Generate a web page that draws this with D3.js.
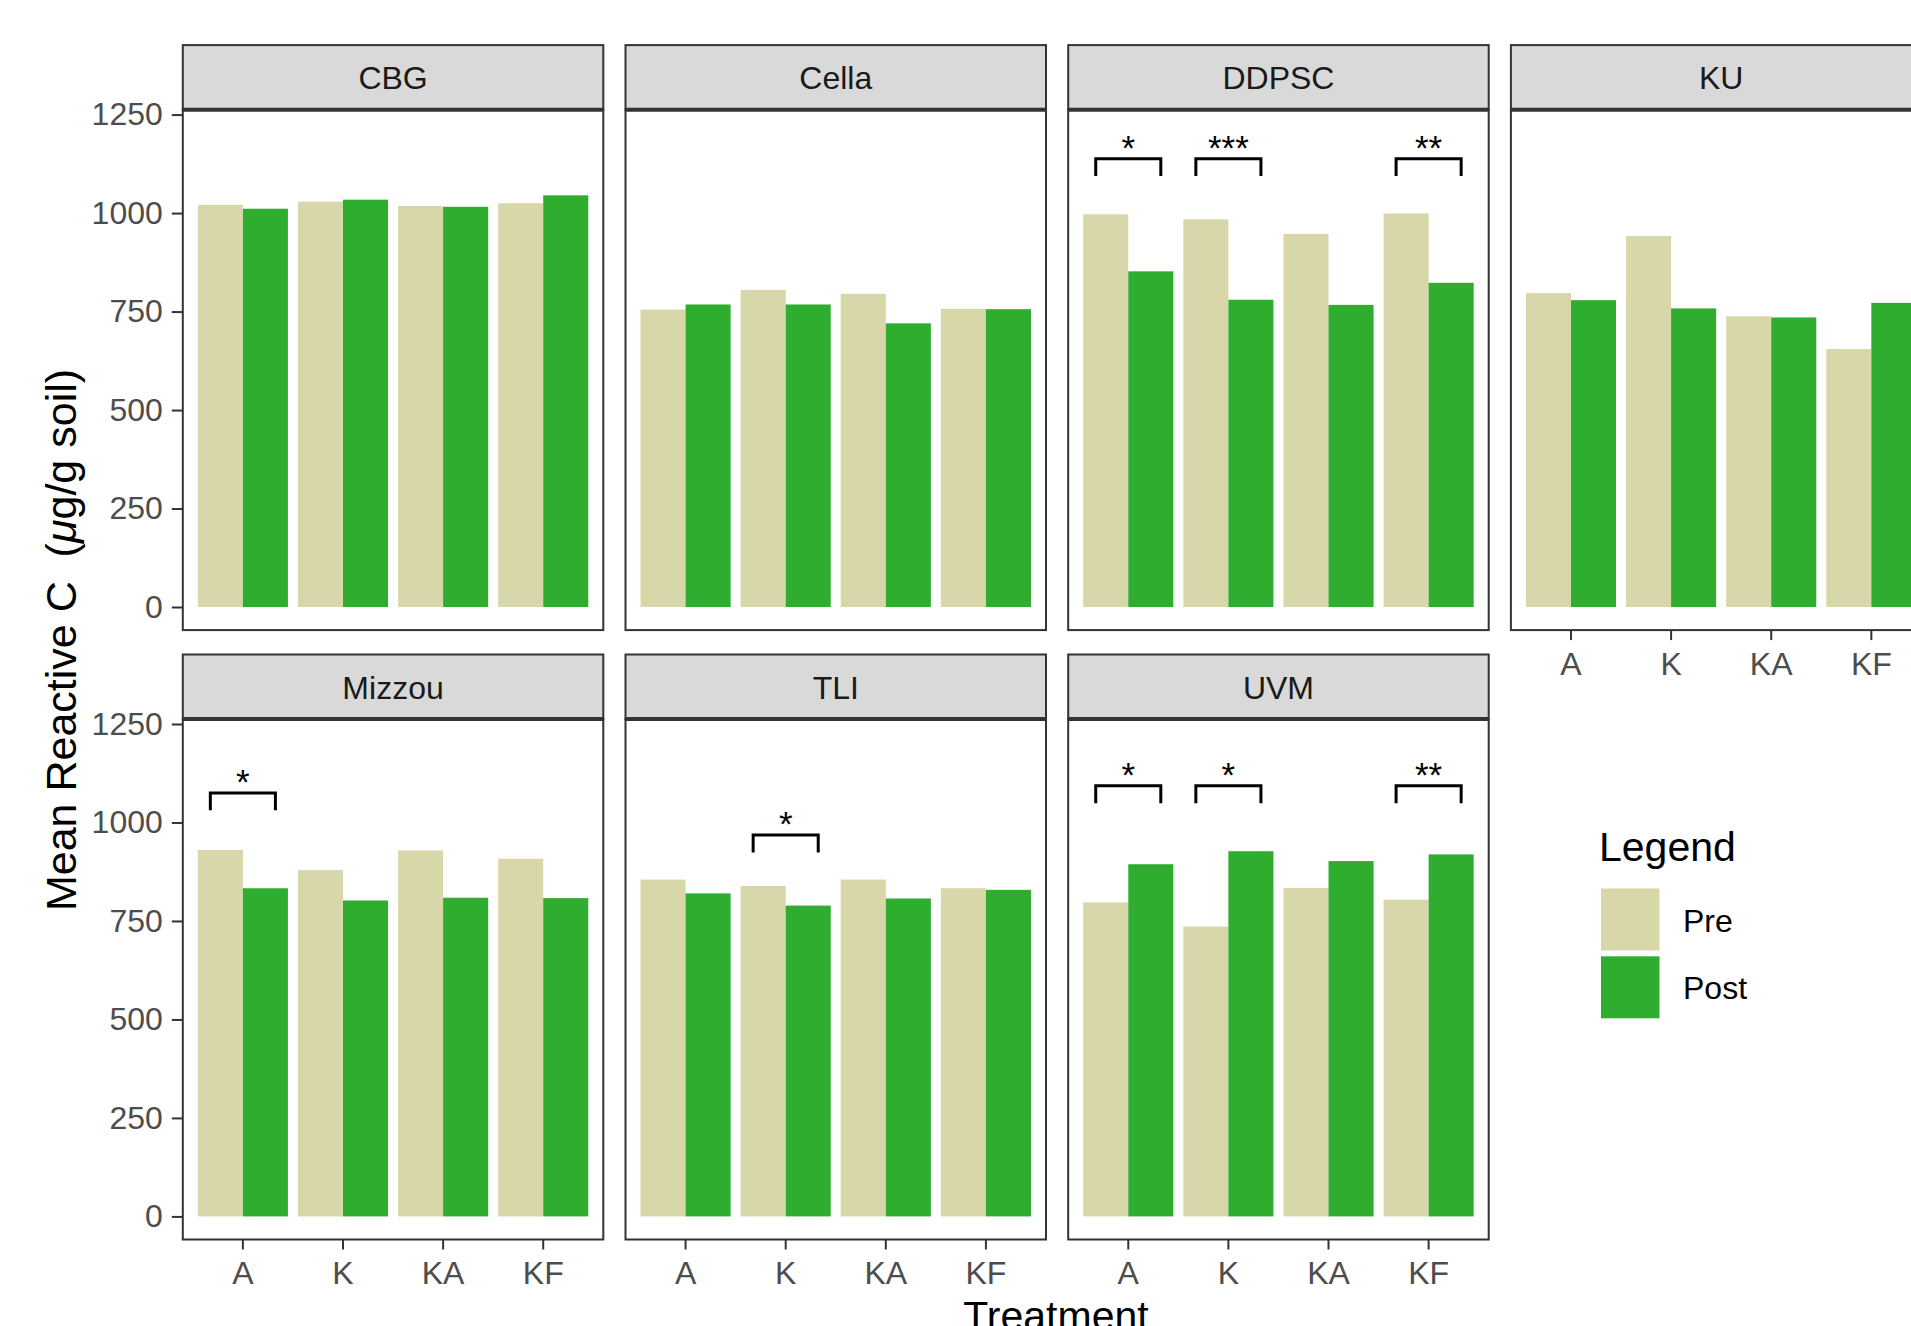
<!DOCTYPE html>
<html lang="en">
<head>
    <meta charset="UTF-8">
    <title>Mean Reactive C by site</title>
    <script src="https://d3js.org/d3.v7.min.js"></script>
    <style>
        body {
            margin: 0;
            background: #fff;
            overflow: hidden;
        }
        svg {
            display: block;
            font-family: "Liberation Sans", Arial, Helvetica, sans-serif;
        }
    </style>
</head>
<body>
    <div id="chart"></div>

    <script>
        // values (µg/g soil)
        const sites = ["CBG", "Cella", "DDPSC", "KU", "Mizzou", "TLI", "UVM"];
        const treatments = ["A", "K", "KA", "KF"];
        const phases = ["Pre", "Post"];
        const preValues = [
            [1021, 1029, 1018, 1025],
            [755, 805, 795, 757],
            [997, 984, 947, 999],
            [797, 942, 738, 655],
            [930, 879, 929, 908],
            [855, 839, 855, 833],
            [797, 736, 834, 804]
        ];
        const postValues = [
            [1011, 1034, 1016, 1045],
            [768, 768, 720, 756],
            [852, 780, 767, 823],
            [779, 758, 735, 772],
            [833, 802, 809, 808],
            [820, 789, 807, 829],
            [894, 927, 902, 919]
        ];
        const yTicks = [0, 250, 500, 750, 1000, 1250];
        // significance brackets: site, treatment, bracket height, stars
        const brackets = [
            ["DDPSC", "A", 1138, "*"],
            ["DDPSC", "K", 1138, "***"],
            ["DDPSC", "KF", 1138, "**"],
            ["Mizzou", "A", 1075, "*"],
            ["TLI", "K", 968, "*"],
            ["UVM", "A", 1093, "*"],
            ["UVM", "K", 1093, "*"],
            ["UVM", "KF", 1093, "**"]
        ];

        const colors = { Pre: "#d8d7aa", Post: "#2fad2f" };

        const width = 1911;
        const height = 1326;
        const ncol = 4;
        const left0 = 182.8;
        const panelW = 420.5;
        const colStep = 442.7;
        const top0 = 45.1;
        const rowStep = 609.4;
        const stripH = 64.6;
        const panelH = 520.4;
        const smallFont = 32;
        const titleFont = 41;

        const svg = d3.select("#chart")
            .append("svg")
            .attr("width", width)
            .attr("height", height)
            .attr("viewBox", [0, 0, width, height]);

        const x = d3.scaleBand()
            .domain(treatments)
            .range([0, panelW])
            .paddingInner(0)
            .paddingOuter(0.1);

        const xPhase = d3.scaleBand()
            .domain(phases)
            .range([x.bandwidth() * 0.05, x.bandwidth() * 0.95]);

        const y = d3.scaleLinear()
            .domain([-58.6, 1262.4])
            .range([panelH, 0]);

        sites.forEach((site, i) => {
            const col = i % ncol;
            const row = Math.floor(i / ncol);
            const px = left0 + col * colStep;
            const stripTop = top0 + row * rowStep;
            const py = stripTop + stripH;

            // strip
            svg.append("rect")
                .attr("x", px)
                .attr("y", stripTop)
                .attr("width", panelW)
                .attr("height", stripH)
                .attr("fill", "#d9d9d9")
                .attr("stroke", "#333")
                .attr("stroke-width", 2);

            svg.append("text")
                .attr("x", px + panelW / 2)
                .attr("y", stripTop + stripH / 2 + 12)
                .attr("text-anchor", "middle")
                .attr("font-size", smallFont)
                .attr("fill", "#1a1a1a")
                .text(site);

            const g = svg.append("g")
                .attr("transform", `translate(${px},${py})`);

            g.append("rect")
                .attr("width", panelW)
                .attr("height", panelH)
                .attr("fill", "#fff");

            const rows = treatments.map((t, j) => ({
                treatment: t,
                Pre: preValues[i][j],
                Post: postValues[i][j]
            }));

            g.selectAll("g.grp")
                .data(rows)
                .join("g")
                .attr("class", "grp")
                .attr("transform", d => `translate(${x(d.treatment)},0)`)
                .selectAll("rect")
                .data(d => phases.map(p => ({ phase: p, value: d[p] })))
                .join("rect")
                .attr("x", d => xPhase(d.phase))
                .attr("width", xPhase.bandwidth())
                .attr("y", d => y(d.value))
                .attr("height", d => y(0) - y(d.value))
                .attr("fill", d => colors[d.phase]);

            // significance brackets
            const tip = 44;
            brackets.filter(b => b[0] === site).forEach(b => {
                const cx = x(b[1]) + x.bandwidth() / 2;
                const half = x.step() * 0.325;
                g.append("path")
                    .attr("d", d3.line()([
                        [cx - half, y(b[2] - tip)],
                        [cx - half, y(b[2])],
                        [cx + half, y(b[2])],
                        [cx + half, y(b[2] - tip)]
                    ]))
                    .attr("fill", "none")
                    .attr("stroke", "#000")
                    .attr("stroke-width", 3);
                g.append("text")
                    .attr("x", cx)
                    .attr("y", y(b[2]) + 1)
                    .attr("text-anchor", "middle")
                    .attr("font-size", 35)
                    .attr("fill", "#000")
                    .text(b[3]);
            });

            // panel border + thick strip/panel divider
            g.append("rect")
                .attr("width", panelW)
                .attr("height", panelH)
                .attr("fill", "none")
                .attr("stroke", "#333")
                .attr("stroke-width", 2);
            g.append("line")
                .attr("x1", 0)
                .attr("x2", panelW)
                .attr("y1", 0)
                .attr("y2", 0)
                .attr("stroke", "#333")
                .attr("stroke-width", 4);

            // y axis on the first column
            if (col === 0) {
                const yAxis = g.append("g")
                    .call(d3.axisLeft(y)
                        .tickValues(yTicks)
                        .tickFormat(d3.format("d"))
                        .tickSize(11)
                        .tickPadding(9));
                yAxis.select(".domain").remove();
                yAxis.selectAll(".tick line").attr("stroke", "#333").attr("stroke-width", 2);
                yAxis.selectAll(".tick text")
                    .attr("fill", "#4d4d4d")
                    .attr("font-size", smallFont)
                    .attr("font-family", null);
            }

            // x axis on the bottom panel of each column
            if (i + ncol >= sites.length) {
                const xAxis = g.append("g")
                    .attr("transform", `translate(0,${panelH})`)
                    .call(d3.axisBottom(x).tickSize(10).tickPadding(12));
                xAxis.select(".domain").remove();
                xAxis.selectAll(".tick line").attr("stroke", "#333").attr("stroke-width", 2);
                xAxis.selectAll(".tick text")
                    .attr("fill", "#4d4d4d")
                    .attr("font-size", smallFont)
                    .attr("font-family", null);
            }
        });

        // axis titles
        svg.append("text")
            .attr("x", 1056)
            .attr("y", 1330)
            .attr("text-anchor", "middle")
            .attr("font-size", titleFont)
            .attr("fill", "#000")
            .text("Treatment");

        const yTitle = svg.append("text")
            .attr("transform", "translate(76,640) rotate(-90)")
            .attr("text-anchor", "middle")
            .attr("font-size", 43)
            .attr("fill", "#000")
            .attr("xml:space", "preserve");
        yTitle.append("tspan").text("Mean Reactive C  (");
        yTitle.append("tspan").attr("font-style", "italic").text("\u03bc");
        yTitle.append("tspan").text("g/g soil)");

        // legend
        const legend = svg.append("g")
            .attr("transform", "translate(1599,861)");
        legend.append("text")
            .attr("font-size", titleFont)
            .attr("fill", "#000")
            .text("Legend");
        const keys = legend.selectAll("g.key")
            .data(phases)
            .join("g")
            .attr("class", "key")
            .attr("transform", (d, k) => `translate(2,${27.5 + k * 67.8})`);
        keys.append("rect")
            .attr("width", 58.5)
            .attr("height", 62)
            .attr("fill", d => colors[d]);
        keys.append("text")
            .attr("x", 82)
            .attr("y", 43)
            .attr("font-size", smallFont)
            .attr("fill", "#000")
            .text(d => d);
    </script>
</body>
</html>
